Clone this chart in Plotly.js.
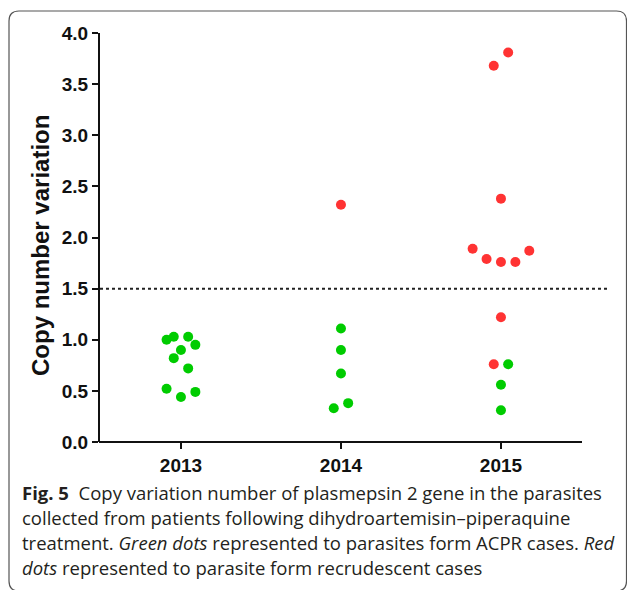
<!DOCTYPE html>
<html>
<head>
<meta charset="utf-8">
<script src="https://cdn.plot.ly/plotly-3.0.1.min.js"></script>
<style>html,body{margin:0;padding:0;background:#fff;}#chart{width:627px;height:590px;}</style>
</head>
<body>
<div id="chart"></div>
<script>
// ---- data ----
const years = ['2013', '2014', '2015'];

// ACPR cases (green)
const greenYearIdx = [0,0,0,0,0,0,0,0,0,0, 1,1,1,1,1, 2,2,2];
const greenValue   = [1.00,1.03,1.03,0.95,0.90,0.82,0.72,0.52,0.49,0.44,
                      1.11,0.90,0.67,0.38,0.33,
                      0.76,0.56,0.31];
const greenJitter  = [-0.09,-0.045,0.045,0.09,0,-0.045,0.045,-0.09,0.09,0,
                      0,0,0,0.045,-0.045,
                      0.045,0,0];

// Recrudescent cases (red)
const redYearIdx = [1, 2,2,2,2,2,2,2,2,2,2];
const redValue   = [2.32, 3.81,3.68,2.38,1.89,1.79,1.76,1.76,1.87,1.22,0.76];
const redJitter  = [0, 0.045,-0.045,0,-0.177,-0.09,0,0.09,0.177,0,-0.045];

const threshold = 1.5;
const yTicks = [0, 0.5, 1.0, 1.5, 2.0, 2.5, 3.0, 3.5, 4.0];

const captionLines = [
  '<b>Fig. 5</b>\u00a0\u00a0Copy variation number of plasmepsin 2 gene in the parasites',
  'collected from patients following dihydroartemisin\u2013piperaquine',
  'treatment. <i>Green dots</i> represented to parasites form ACPR cases. <i>Red</i>',
  '<i>dots</i> represented to parasite form recrudescent cases'
];

// ---- layout geometry ----
const W = 627, H = 590;
const M = {l: 100, r: 15, t: 33, b: 148};
const PL = M.l, PR = W - M.r, PT = M.t, PB = H - M.b;
const px2x = p => (p - PL) / (PR - PL);
const py2y = p => (PB - p) / (PB - PT);

const xpos = (idx, jit) => idx.map((v, i) => v + jit[i]);

const traces = [
  {
    type: 'scatter', mode: 'markers',
    x: xpos(greenYearIdx, greenJitter), y: greenValue,
    marker: {color: '#00cc00', size: 10, line: {width: 0}},
    hoverinfo: 'y', name: 'ACPR'
  },
  {
    type: 'scatter', mode: 'markers',
    x: xpos(redYearIdx, redJitter), y: redValue,
    marker: {color: '#ff3333', size: 10, line: {width: 0}},
    hoverinfo: 'y', name: 'Recrudescent'
  }
];

// rounded border box
function boxPath(x0, y0, x1, y1, r) {
  const P = (x, y) => px2x(x).toFixed(5) + ',' + py2y(y).toFixed(5);
  return 'M' + P(x0, y0 + r) +
    ' Q' + P(x0, y0) + ' ' + P(x0 + r, y0) +
    ' L' + P(x1 - r, y0) +
    ' Q' + P(x1, y0) + ' ' + P(x1, y0 + r) +
    ' L' + P(x1, y1 - r) +
    ' Q' + P(x1, y1) + ' ' + P(x1 - r, y1) +
    ' L' + P(x0 + r, y1) +
    ' Q' + P(x0, y1) + ' ' + P(x0, y1 - r) + ' Z';
}

const tickFont = {family: 'Liberation Sans, Arial, sans-serif', size: 19, color: '#111', weight: 'bold'};

const annotations = captionLines.map((t, i) => ({
  xref: 'paper', yref: 'paper',
  x: px2x(20), y: py2y(492 + i * 25),
  xanchor: 'left', yanchor: 'middle',
  text: t, showarrow: false, align: 'left',
  font: {family: 'Open Sans, Noto Sans, sans-serif', size: 18.5, color: '#231f20'}
}));
annotations.push({
  xref: 'paper', yref: 'paper',
  x: px2x(40), y: py2y(246),
  xanchor: 'center', yanchor: 'middle', textangle: -90,
  text: 'Copy number variation', showarrow: false,
  font: {family: 'Liberation Sans, Arial, sans-serif', size: 24, color: '#111', weight: 'bold'}
});

const layout = {
  width: W, height: H,
  margin: M,
  paper_bgcolor: '#fff', plot_bgcolor: '#fff',
  showlegend: false,
  xaxis: {
    range: [-0.506, 2.694],
    tickmode: 'array', tickvals: years.map((_, i) => i), ticktext: years,
    ticks: 'outside', ticklen: 6, tickwidth: 2, tickcolor: '#111',
    showline: false, showgrid: false, zeroline: false,
    tickfont: tickFont, fixedrange: true
  },
  yaxis: {
    range: [0, 4],
    tickmode: 'array', tickvals: yTicks, ticktext: yTicks.map(v => v.toFixed(1)),
    ticks: 'outside', ticklen: 6, tickwidth: 2, tickcolor: '#111',
    showline: true, linewidth: 2, linecolor: '#111',
    showgrid: false, zeroline: false,
    tickfont: tickFont, fixedrange: true
  },
  shapes: [
    {type: 'line', xref: 'paper', yref: 'paper', x0: px2x(99), x1: px2x(582), y0: 0, y1: 0,
     line: {color: '#111', width: 2}},
    {type: 'line', xref: 'paper', yref: 'y', x0: 0, x1: px2x(607), y0: threshold, y1: threshold,
     line: {color: '#222', width: 2, dash: 'dot'}},
    {type: 'path', xref: 'paper', yref: 'paper', path: boxPath(9, 11, 626.5, 591, 10),
     line: {color: '#555', width: 1.2}}
  ],
  annotations: annotations
};

Plotly.newPlot('chart', traces, layout, {staticPlot: true, displayModeBar: false});
</script>
</body>
</html>
